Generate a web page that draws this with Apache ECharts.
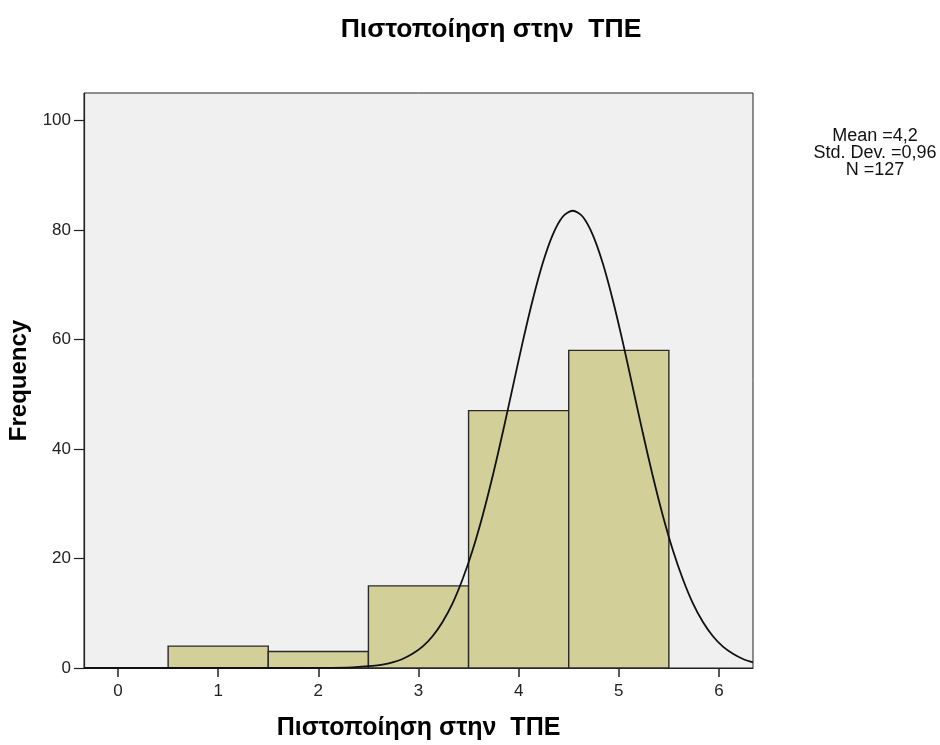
<!DOCTYPE html>
<html>
<head>
<meta charset="utf-8">
<script src="https://cdn.jsdelivr.net/npm/echarts@6/dist/echarts.min.js"></script>
<style>html,body{margin:0;padding:0;background:#fff}#c{width:940px;height:745px}</style>
</head>
<body>
<div id="c"></div>
<script>
// Histogram bins
const binStarts = [0.5, 1.5, 2.5, 3.5, 4.5];
const binEnds   = [1.5, 2.5, 3.5, 4.5, 5.5];
const counts    = [4, 3, 15, 47, 58];
// Normal curve points
const curveX = [-0.34, 0.5, 1.0, 1.54, 2.04, 2.34, 2.54, 2.64, 2.74, 2.84, 2.94, 3.04, 3.14, 3.24, 3.34, 3.44, 3.54, 3.64, 3.74, 3.84, 3.94, 4.04, 4.14, 4.24, 4.34, 4.44, 4.54, 4.64, 4.74, 4.84, 4.94, 5.04, 5.14, 5.24, 5.34, 5.44, 5.54, 5.64, 5.74, 5.84, 5.94, 6.04, 6.14, 6.24, 6.34];
const curveY = [0, 0, 0, 0, 0.02, 0.12, 0.37, 0.62, 1.03, 1.65, 2.6, 3.9, 5.8, 8.4, 11.8, 16.2, 21.5, 27.8, 35.0, 42.9, 51.2, 59.5, 67.2, 73.9, 79.1, 82.4, 83.5, 82.4, 79.1, 73.9, 67.2, 59.5, 51.2, 42.9, 35.0, 27.8, 21.5, 16.2, 11.8, 8.4, 5.8, 3.9, 2.6, 1.65, 1.03];
// Tick labels
const xTicks = [0, 1, 2, 3, 4, 5, 6];
const yTicks = [0, 20, 40, 60, 80, 100];
const titleText = 'Πιστοποίηση στην  ΤΠΕ';
const xName = 'Πιστοποίηση στην  ΤΠΕ';
const yName = 'Frequency';
const statsLines = ['Mean =4,2', 'Std. Dev. =0,96', 'N =127'];

const FONT = '"Liberation Sans", Arial, sans-serif';
const chart = echarts.init(document.getElementById('c'), null, {renderer: 'canvas'});

const barData = binStarts.map((s, i) => [s, binEnds[i], counts[i]]);
const curveData = curveX.map((x, i) => [x, curveY[i]]);

chart.setOption({
  backgroundColor: '#ffffff',
  animation: false,
  title: {
    text: titleText,
    left: 486,
    top: 11,
    textAlign: 'center',
    textStyle: {fontFamily: FONT, fontWeight: 'bold', fontSize: 26.5, color: '#000'}
  },
  graphic: [{
    type: 'text',
    x: 875,
    y: 128,
    style: {
      text: statsLines.join('\n'),
      fontFamily: FONT,
      fontSize: 18,
      lineHeight: 17,
      fill: '#111',
      align: 'center',
      verticalAlign: 'top'
    },
    z: 10
  }],
  grid: {
    left: 84, right: 187, top: 93, bottom: 77,
    outerBoundsMode: 'none',
    containLabel: false,
    show: true,
    backgroundColor: '#f0f0f0',
    borderColor: '#222',
    borderWidth: 1
  },
  xAxis: {
    type: 'value',
    min: -0.34, max: 6.34,
    name: xName,
    nameLocation: 'middle',
    nameGap: 48,
    nameTextStyle: {fontFamily: FONT, fontWeight: 'bold', fontSize: 25, color: '#000'},
    splitLine: {show: false},
    axisLine: {show: true, onZero: false, lineStyle: {color: '#222', width: 1.2}},
    axisTick: {show: true, length: 9, lineStyle: {color: '#222', width: 1.5}, customValues: xTicks},
    axisLabel: {fontFamily: FONT, fontSize: 17, color: '#222', margin: 15, customValues: xTicks}
  },
  yAxis: {
    type: 'value',
    min: 0, max: 105,
    name: yName,
    nameLocation: 'middle',
    nameRotate: 90,
    nameGap: 50,
    nameTextStyle: {fontFamily: FONT, fontWeight: 'bold', fontSize: 24, color: '#000'},
    splitLine: {show: false},
    axisLine: {show: true, onZero: false, lineStyle: {color: '#222', width: 1.2}},
    axisTick: {show: true, length: 10, lineStyle: {color: '#222', width: 1.2}, customValues: yTicks},
    axisLabel: {fontFamily: FONT, fontSize: 17, color: '#222', margin: 13, customValues: yTicks}
  },
  series: [{
    type: 'custom',
    data: barData,
    encode: {x: [0, 1], y: 2},
    renderItem: function (params, api) {
      const p0 = api.coord([api.value(0), api.value(2)]);
      const p1 = api.coord([api.value(1), 0]);
      return {
        type: 'rect',
        shape: {x: p0[0], y: p0[1], width: p1[0] - p0[0], height: p1[1] - p0[1]},
        style: {fill: '#d3cf98', stroke: '#2a2a2a', lineWidth: 1.4}
      };
    },
    z: 2
  }, {
    type: 'line',
    data: curveData,
    smooth: 0.3,
    showSymbol: false,
    lineStyle: {color: '#111', width: 1.8},
    z: 3
  }]
});
</script>
</body>
</html>
